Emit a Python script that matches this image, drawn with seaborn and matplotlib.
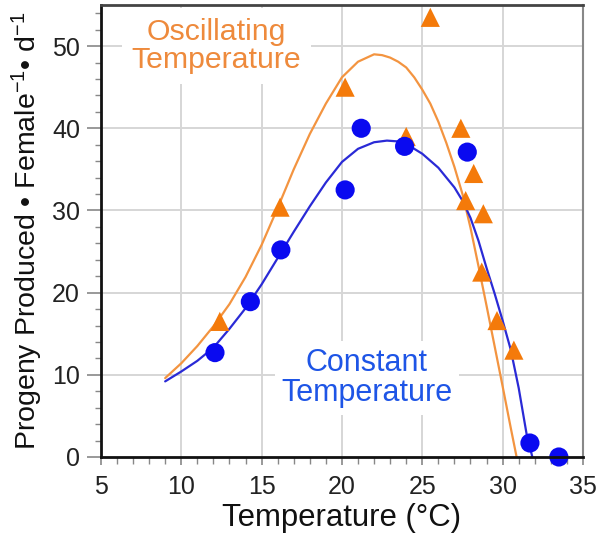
import matplotlib
matplotlib.use("Agg")
import matplotlib.pyplot as plt
import seaborn as sns
import pandas as pd
from matplotlib.ticker import MultipleLocator

# ---- data ----
const_x = [12.1, 14.3, 16.2, 20.2, 21.2, 23.9, 27.8, 31.7, 33.5]
const_y = [12.7, 18.9, 25.2, 32.5, 40.0, 37.8, 37.1, 1.7, 0.0]

osc_x = [12.4, 16.15, 20.2, 24.0, 25.5, 27.4, 28.2, 27.7, 28.8, 28.7, 29.65, 30.7]
osc_y = [16.5, 30.4, 45.0, 39.0, 53.5, 40.0, 34.5, 31.2, 29.6, 22.5, 16.6, 13.0]

osc_curve_x = [9.0, 10.0, 11.0, 12.0, 13.0, 14.0, 15.0, 16.0, 17.0, 18.0, 19.0, 20.0,
               21.0, 22.0, 22.5, 23.0, 23.5, 24.0, 24.5, 25.0, 25.5, 26.0, 26.5, 27.0,
               27.5, 28.0, 28.5, 29.0, 29.5, 30.0, 30.5, 30.87]
osc_curve_y = [9.6, 11.4, 13.5, 15.9, 18.6, 21.9, 25.8, 30.3, 35.0, 39.3, 43.0, 46.2,
               48.1, 49.0, 48.9, 48.6, 48.1, 47.4, 46.2, 44.7, 43.0, 40.8, 38.2, 35.3,
               32.0, 27.9, 23.2, 18.4, 13.5, 8.6, 3.6, 0.0]

const_curve_x = [9.0, 10.0, 11.0, 12.0, 13.0, 14.0, 15.0, 16.0, 17.0, 18.0, 19.0, 20.0,
                 21.0, 22.0, 22.8, 23.5, 24.0, 25.0, 26.0, 27.0, 27.5, 28.0, 28.5, 29.0,
                 29.5, 30.0, 30.5, 31.0, 31.5, 31.85]
const_curve_y = [9.2, 10.4, 11.7, 13.3, 15.6, 18.1, 21.0, 24.2, 27.4, 30.5, 33.4, 35.9,
                 37.5, 38.3, 38.5, 38.4, 38.1, 36.9, 35.2, 32.8, 31.2, 29.1, 26.3, 23.0,
                 19.9, 16.6, 13.1, 8.4, 2.7, 0.0]

x_ticks = [5, 10, 15, 20, 25, 30, 35]
y_ticks = [0, 10, 20, 30, 40, 50]

ORANGE_M = "#F47A0A"
ORANGE_L = "#F39440"
ORANGE_T = "#EE8A3C"
BLUE_M = "#0A0AF0"
BLUE_L = "#2A2AD6"
BLUE_T = "#1E55E6"

sns.set_theme(style="white")
plt.rcParams["font.family"] = ["Liberation Sans", "DejaVu Sans"]
plt.rcParams["mathtext.fontset"] = "custom"
plt.rcParams["mathtext.rm"] = "Liberation Sans"
plt.rcParams["mathtext.it"] = "Liberation Sans"

fig = plt.figure(figsize=(5.97, 5.33), dpi=100)
ax = fig.add_axes([0.169, 0.1426, 0.8075, 0.848])

# grid
for gx in [10, 15, 20, 25, 30]:
    ax.axvline(gx, color="#d6d6d6", lw=1.4, zorder=0)
for gy in [10, 20, 30, 40, 50]:
    ax.axhline(gy, color="#d6d6d6", lw=1.4, zorder=0)

df_oc = pd.DataFrame({"x": osc_curve_x, "y": osc_curve_y})
df_cc = pd.DataFrame({"x": const_curve_x, "y": const_curve_y})
sns.lineplot(data=df_oc, x="x", y="y", ax=ax, color=ORANGE_L, lw=1.6, sort=False, zorder=2)
sns.lineplot(data=df_cc, x="x", y="y", ax=ax, color=BLUE_L, lw=1.6, sort=False, zorder=2)

df_o = pd.DataFrame({"x": osc_x, "y": osc_y})
df_c = pd.DataFrame({"x": const_x, "y": const_y})
sns.scatterplot(data=df_o, x="x", y="y", ax=ax, marker="^", s=190, color=ORANGE_M,
                edgecolor="none", zorder=3, clip_on=False)
sns.scatterplot(data=df_c, x="x", y="y", ax=ax, marker="o", s=190, color=BLUE_M,
                edgecolor="none", zorder=4, clip_on=False)

ax.text(12.2, 50.0, "Oscillating\nTemperature", color=ORANGE_T, fontsize=21.8,
        ha="center", va="center", linespacing=1.0, zorder=1.5,
        bbox=dict(boxstyle="square,pad=0.33", facecolor="white", edgecolor="none"))
ax.text(21.55, 9.6, "Constant\nTemperature", color=BLUE_T, fontsize=22,
        ha="center", va="center", linespacing=1.0, zorder=1.5,
        bbox=dict(boxstyle="square,pad=0.22", facecolor="white", edgecolor="none"))

ax.set_xlim(5, 35)
ax.set_ylim(0, 55)
ax.set_xticks(x_ticks)
ax.set_yticks(y_ticks)
ax.xaxis.set_minor_locator(MultipleLocator(1))
ax.yaxis.set_minor_locator(MultipleLocator(2))
ax.tick_params(axis="both", which="major", labelsize=18, colors="#222222")
ax.tick_params(axis="y", which="major", direction="out", length=10, width=1.2,
               color="#888888", left=True, pad=5)
ax.tick_params(axis="y", which="minor", direction="out", length=4, width=1.0,
               color="#888888", left=True)
ax.tick_params(axis="x", which="major", direction="out", length=6, width=1.2,
               color="#888888", bottom=True, pad=7)
ax.tick_params(axis="x", which="minor", direction="out", length=5, width=1.0,
               color="#888888", bottom=True)

ax.set_xlabel("Temperature (°C)", fontsize=22.4, color="#111111", labelpad=3)
ax.set_ylabel("Progeny Produced • Female$^{\\mathregular{-1}}$• d$^{\\mathregular{-1}}$",
              fontsize=20.5, color="#111111", labelpad=5)

for s in ["left", "bottom"]:
    ax.spines[s].set_color("#111111")
    ax.spines[s].set_linewidth(2.0)
ax.spines["top"].set_color("#444444")
ax.spines["top"].set_linewidth(2.0)
ax.spines["right"].set_color("#888888")
ax.spines["right"].set_linewidth(1.5)
for s in ax.spines.values():
    s.set_visible(True)
    s.set_zorder(5)

fig.savefig("out.png", dpi=100, facecolor="white")
